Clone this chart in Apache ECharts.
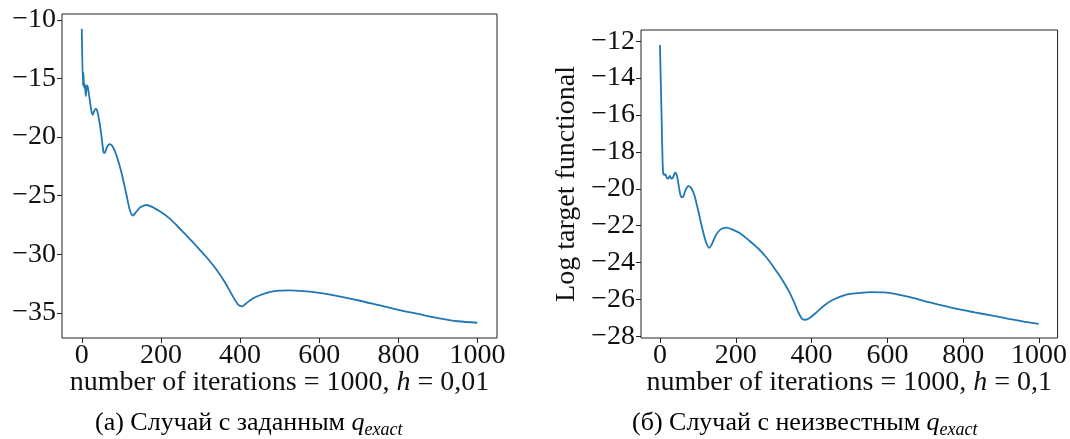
<!DOCTYPE html>
<html>
<head>
<meta charset="utf-8">
<script src="https://cdn.jsdelivr.net/npm/echarts@6/dist/echarts.min.js"></script>
<style>
  html, body { margin: 0; padding: 0; background: #fff; }
  #chart { width: 1070px; height: 439px; }
</style>
</head>
<body>
<div id="chart"></div>
<script>
// iterations ticks (both plots)
const xTicks = [0, 200, 400, 600, 800, 1000];
const yTicksA = [-35, -30, -25, -20, -15, -10];
const yTicksB = [-28, -26, -24, -22, -20, -18, -16, -14, -12];

// (a) known q_exact, h = 0,01 : [iteration, log functional]
const seriesA = [
  [0, -10.77], [3, -15.6], [4, -14.5], [6, -15.8], [8, -15.5], [10, -16.5], [13, -15.6],
  [15, -15.7], [20, -16.8], [25, -17.9], [28, -18.1], [32, -17.7], [36, -17.6], [40, -17.9],
  [45, -18.8], [50, -20.0], [55, -21.3], [58, -21.35], [63, -20.9], [70, -20.6], [78, -20.8],
  [88, -21.6], [100, -23.0], [112, -24.8], [122, -26.3], [129, -26.7], [137, -26.4],
  [148, -26.0], [163, -25.8], [180, -26.0], [200, -26.4], [220, -26.9], [240, -27.55],
  [260, -28.25], [280, -28.95], [300, -29.7], [320, -30.45], [340, -31.3], [360, -32.3],
  [380, -33.5], [395, -34.3], [405, -34.45], [415, -34.2], [431, -33.8], [450, -33.5],
  [474, -33.23], [500, -33.1], [525, -33.08], [560, -33.15], [600, -33.3], [650, -33.6],
  [700, -33.95], [750, -34.35], [800, -34.75], [850, -35.1], [900, -35.45], [950, -35.72],
  [999, -35.85]
];

// (б) unknown q_exact, h = 0,1
const seriesB = [
  [0, -12.2], [4, -15.8], [8, -19.1], [11, -19.25], [14, -19.2], [18, -19.4], [22, -19.45],
  [26, -19.3], [30, -19.45], [34, -19.4], [40, -19.12], [45, -19.3], [50, -19.9], [55, -20.4],
  [60, -20.46], [67, -20.1], [75, -19.85], [82, -19.95], [90, -20.3], [100, -21.1],
  [110, -22.0], [120, -22.8], [130, -23.2], [137, -23.0], [148, -22.5], [160, -22.2],
  [175, -22.1], [190, -22.2], [210, -22.4], [235, -22.8], [260, -23.25], [280, -23.7],
  [300, -24.25], [320, -24.85], [340, -25.55], [355, -26.2], [365, -26.7], [375, -27.05],
  [383, -27.1], [395, -27.0], [413, -26.7], [435, -26.3], [458, -26.0], [490, -25.75],
  [521, -25.66], [557, -25.6], [592, -25.62], [620, -25.7], [660, -25.88], [700, -26.1],
  [735, -26.28], [780, -26.5], [830, -26.7], [870, -26.85], [920, -27.05], [960, -27.2],
  [999, -27.33]
];

const serif = 'Liberation Serif';
const minus = v => String(v).replace('-', '\u2212');

const xAxisCfg = (gi, hText) => ({
  type: 'value', gridIndex: gi, min: -50, max: 1049,
  splitLine: { show: false },
  axisLine: { show: false, onZero: false },
  axisTick: { show: true, inside: false, length: 5, customValues: xTicks, lineStyle: { color: '#222' } },
  axisLabel: { customValues: xTicks, formatter: v => String(v), fontFamily: serif, fontSize: 28, color: '#111', margin: 4 },
  name: '{n|number of iterations = 1000, }{i|h}{n| = ' + hText + '}',
  nameLocation: 'middle', nameGap: 31, nameMoveOverlap: false,
  nameTextStyle: {
    rich: {
      n: { fontFamily: serif, fontSize: 28, color: '#111' },
      i: { fontFamily: serif, fontSize: 28, color: '#111', fontStyle: 'italic' }
    }
  }
});

const yAxisCfg = (gi, min, max, ticks) => ({
  type: 'value', gridIndex: gi, min: min, max: max,
  splitLine: { show: false },
  axisLine: { show: false, onZero: false },
  axisTick: { show: true, inside: false, length: 5, customValues: ticks, lineStyle: { color: '#222' } },
  axisLabel: { customValues: ticks, formatter: minus, fontFamily: serif, fontSize: 28, color: '#111', margin: 6 }
});

const caption = (left, letter, word) => ({
  type: 'text', left: left, top: 410,
  style: {
    text: '{a|(' + letter + ') Случай с ' + word + ' }{q|q}{s|exact}',
    rich: {
      a: { fontFamily: serif, fontSize: 26, color: '#333', lineHeight: 32 },
      q: { fontFamily: serif, fontSize: 26, color: '#333', fontStyle: 'italic', lineHeight: 32 },
      s: { fontFamily: serif, fontSize: 18, color: '#333', fontStyle: 'italic', lineHeight: 32, verticalAlign: 'bottom', padding: [11, 0, 0, 0] }
    }
  }
});

const chart = echarts.init(document.getElementById('chart'));
const yB = yAxisCfg(1, -28.09, -11.39, yTicksB);
yB.name = 'Log target functional';
yB.nameLocation = 'middle';
yB.nameRotate = 90;
yB.nameGap = 60;
yB.nameMoveOverlap = false;
yB.nameTextStyle = { fontFamily: serif, fontSize: 28, color: '#111' };

chart.setOption({
  animation: false,
  backgroundColor: '#fff',
  grid: [
    { left: 62, top: 14, width: 435, height: 324, show: true, borderColor: '#222', borderWidth: 1, backgroundColor: 'transparent' },
    { left: 641, top: 30, width: 417, height: 308, show: true, borderColor: '#222', borderWidth: 1, backgroundColor: 'transparent' }
  ],
  xAxis: [xAxisCfg(0, '0,01'), xAxisCfg(1, '0,1')],
  yAxis: [yAxisCfg(0, -37.15, -9.5, yTicksA), yB],
  series: [
    { type: 'line', xAxisIndex: 0, yAxisIndex: 0, data: seriesA, showSymbol: false, smooth: 0.3,
      lineStyle: { color: '#1f77b4', width: 1.8 } },
    { type: 'line', xAxisIndex: 1, yAxisIndex: 1, data: seriesB, showSymbol: false, smooth: 0.3,
      lineStyle: { color: '#1f77b4', width: 1.8 } }
  ],
  graphic: [caption(95, 'а', 'заданным'), caption(632, 'б', 'неизвестным')]
});
</script>
</body>
</html>
